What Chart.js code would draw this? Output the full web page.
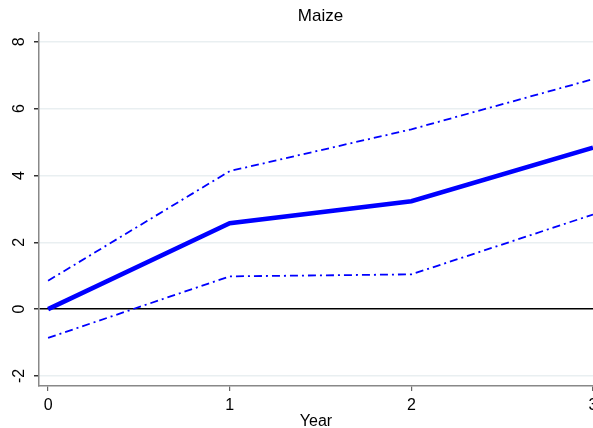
<!DOCTYPE html>
<html>
<head>
<meta charset="utf-8">
<script src="https://cdn.jsdelivr.net/npm/chart.js@4"></script>
<style>
  html, body { margin: 0; padding: 0; background: #fff; overflow: hidden; }
  #wrap { width: 641px; height: 428px; }
</style>
</head>
<body>
<div id="wrap"><canvas id="maize" width="641" height="428"></canvas></div>
<script>
// values
const years = [0, 1, 2, 3];
const estimate = [0, 2.57, 3.23, 4.83];
const upper = [0.85, 4.13, 5.38, 6.88];
const lower = [-0.86, 0.98, 1.04, 2.83];
const yTicks = [-2, 0, 2, 4, 6, 8];
const xTicks = [0, 1, 2, 3];

const toPoints = vals => years.map((yr, i) => ({ x: yr, y: vals[i] }));
const fontFamily = 'Arial, "Liberation Sans", sans-serif';

new Chart(document.getElementById('maize'), {
  type: 'line',
  data: {
    datasets: [
      {
        label: 'estimate',
        data: toPoints(estimate),
        borderColor: '#0000ff',
        borderWidth: 4.5,
        pointRadius: 0,
        tension: 0
      },
      {
        label: 'upper',
        data: toPoints(upper),
        borderColor: '#0000ff',
        borderWidth: 1.8,
        borderDash: [8, 4, 2, 4],
        pointRadius: 0,
        tension: 0
      },
      {
        label: 'lower',
        data: toPoints(lower),
        borderColor: '#0000ff',
        borderWidth: 1.8,
        borderDash: [8, 4, 2, 4],
        pointRadius: 0,
        tension: 0
      }
    ]
  },
  options: {
    responsive: false,
    animation: false,
    devicePixelRatio: 1,
    layout: { padding: 0 },
    plugins: {
      legend: { display: false },
      tooltip: { enabled: false },
      title: {
        display: true,
        text: 'Maize',
        color: '#000',
        font: { family: fontFamily, size: 17, weight: 'normal' },
        padding: { top: 6, bottom: 6 }
      }
    },
    scales: {
      x: {
        type: 'linear',
        min: -0.05,
        max: 3,
        afterBuildTicks: s => { s.ticks = xTicks.map(v => ({ value: v })); },
        afterFit: s => { s.height = 42; },
        grid: {
          drawOnChartArea: false,
          drawTicks: true,
          tickLength: 5,
          tickColor: '#666',
          lineWidth: 1.2
        },
        border: { color: '#888', width: 1.5 },
        ticks: {
          color: '#000',
          padding: 5,
          maxRotation: 0,
          font: { family: fontFamily, size: 16 }
        },
        title: {
          display: true,
          text: 'Year',
          color: '#000',
          font: { family: fontFamily, size: 16, lineHeight: 1 },
          padding: { top: 0, bottom: -2 }
        }
      },
      y: {
        min: -2.3,
        max: 8.28,
        afterBuildTicks: s => { s.ticks = yTicks.map(v => ({ value: v })); },
        afterFit: s => { s.width = 39; },
        grid: {
          color: c => (c.tick && c.tick.value === 0) ? '#000' : '#e9eff1',
          lineWidth: 1.5,
          tickLength: 5,
          tickColor: '#333'
        },
        border: { color: '#888', width: 1.5 },
        ticks: {
          color: '#000',
          padding: 7,
          minRotation: 90,
          maxRotation: 90,
          crossAlign: 'center',
          font: { family: fontFamily, size: 16 }
        }
      },
      // empty right-hand strip: the plot runs on past the window edge
      yRight: {
        position: 'right',
        min: -2.3,
        max: 8.28,
        afterFit: s => { s.width = 48; },
        grid: { display: false },
        border: { display: false },
        ticks: { display: false }
      }
    }
  }
});
</script>
</body>
</html>
